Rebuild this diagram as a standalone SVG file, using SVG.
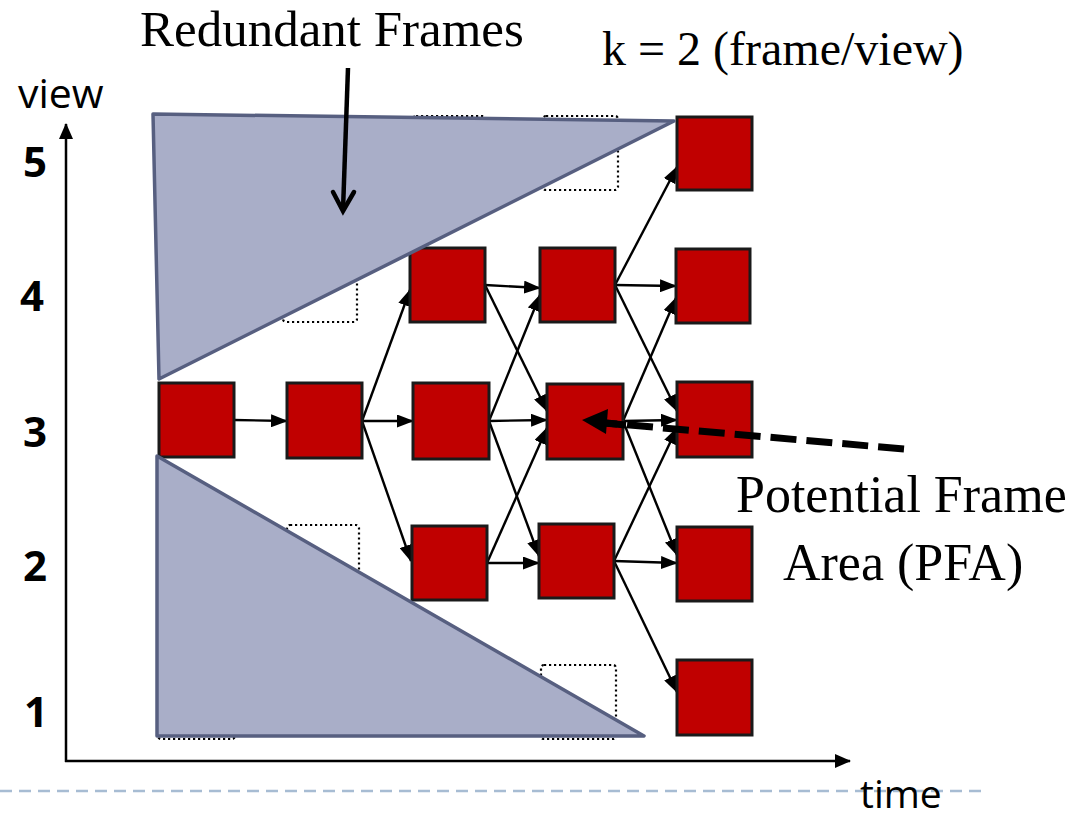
<svg xmlns="http://www.w3.org/2000/svg" width="1079" height="819" viewBox="0 0 1079 819">
<defs>
<style>
.f{fill:#c00000;stroke:#1a1a1a;stroke-width:3}
.d{fill:none;stroke:#000;stroke-width:2.2;stroke-dasharray:2.2 2.8}
.tri{fill:#a9aec8;stroke:#575f80;stroke-width:3.5;stroke-linejoin:round}
.c{stroke:#000;stroke-width:2.4;fill:none;marker-end:url(#ah)}
.ax{stroke:#000;stroke-width:2.5;fill:none;marker-end:url(#axh)}
.serif{font-family:"Liberation Serif","Times New Roman",serif;fill:#000}
.sans{font-family:"Open Sans","DejaVu Sans",sans-serif;fill:#000}
.num{font-family:"Open Sans","DejaVu Sans",sans-serif;font-weight:bold;font-size:42px;fill:#000}
</style>
<marker id="ah" markerWidth="17" markerHeight="13" refX="16" refY="6.5" orient="auto" markerUnits="userSpaceOnUse"><path d="M0,0 L17,6.5 L0,13 z" fill="#000"/></marker>
<marker id="axh" markerWidth="16" markerHeight="14" refX="15" refY="7" orient="auto" markerUnits="userSpaceOnUse"><path d="M0,0 L16,7 L0,14 z" fill="#000"/></marker>
</defs>

<!-- separator -->
<line x1="0" y1="791" x2="985" y2="791" stroke="#a7bcd3" stroke-width="2.5" stroke-dasharray="12 7"/>

<!-- axes -->
<g id="axes">
<line class="ax" x1="66" y1="762" x2="66" y2="124"/>
<line class="ax" x1="65" y1="761" x2="850" y2="761"/>
<text class="sans" x="18" y="108" font-size="41">view</text>
<text class="sans" x="860" y="808" font-size="39">time</text>
<text class="num" x="23" y="177">5</text>
<text class="num" x="20" y="311">4</text>
<text class="num" x="23" y="447">3</text>
<text class="num" x="23" y="581">2</text>
<text class="num" x="24" y="727">1</text>
</g>

<!-- hidden (redundant) frames -->
<g id="hidden-frames">
<rect class="d" x="283" y="248" width="74" height="74" rx="3"/>
<rect class="d" x="413" y="116" width="73" height="74" rx="3"/>
<rect class="d" x="543" y="116" width="75" height="74" rx="3"/>
<rect class="d" x="287" y="525" width="72" height="74" rx="3"/>
<rect class="d" x="541" y="665" width="75" height="74" rx="3"/>
<rect class="d" x="158" y="665" width="77" height="74" rx="3"/>
</g>

<!-- connectors -->
<g id="connectors">
<line class="c" x1="234" y1="420" x2="287" y2="421"/>
<line class="c" x1="362" y1="421" x2="413" y2="421"/>
<line class="c" x1="362" y1="421" x2="410" y2="290"/>
<line class="c" x1="362" y1="421" x2="411" y2="561"/>
<line class="c" x1="485" y1="285" x2="540" y2="288"/>
<line class="c" x1="485" y1="285" x2="547" y2="411"/>
<line class="c" x1="489" y1="421" x2="540" y2="295"/>
<line class="c" x1="489" y1="421" x2="547" y2="420"/>
<line class="c" x1="489" y1="421" x2="539" y2="556"/>
<line class="c" x1="487" y1="563" x2="547" y2="428"/>
<line class="c" x1="487" y1="563" x2="539" y2="563"/>
<line class="c" x1="615" y1="285" x2="677" y2="167"/>
<line class="c" x1="615" y1="285" x2="676" y2="286"/>
<line class="c" x1="615" y1="285" x2="677" y2="411"/>
<line class="c" x1="623" y1="421" x2="676" y2="298"/>
<line class="c" x1="623" y1="421" x2="677" y2="420"/>
<line class="c" x1="623" y1="421" x2="677" y2="555"/>
<line class="c" x1="614" y1="561" x2="677" y2="428"/>
<line class="c" x1="614" y1="561" x2="677" y2="563"/>
<line class="c" x1="614" y1="561" x2="677" y2="692"/>
</g>

<!-- frames -->
<g id="frames">
<g id="f-t0-v3"><rect class="f" x="159" y="383" width="75" height="74"/></g>
<g id="f-t1-v3"><rect class="f" x="287" y="383" width="75" height="75"/></g>
<g id="f-t2-v4"><rect class="f" x="410" y="248" width="75" height="74"/></g>
<g id="f-t2-v3"><rect class="f" x="413" y="383" width="76" height="76"/></g>
<g id="f-t2-v2"><rect class="f" x="412" y="526" width="75" height="74"/></g>
<g id="f-t3-v4"><rect class="f" x="540" y="248" width="75" height="74"/></g>
<g id="f-t3-v3"><rect class="f" x="547" y="384" width="76" height="75"/></g>
<g id="f-t3-v2"><rect class="f" x="539" y="524" width="75" height="74"/></g>
<g id="f-t4-v5"><rect class="f" x="677" y="117" width="75" height="73"/></g>
<g id="f-t4-v4"><rect class="f" x="676" y="249" width="74" height="74"/></g>
<g id="f-t4-v3"><rect class="f" x="677" y="382" width="75" height="75"/></g>
<g id="f-t4-v2"><rect class="f" x="677" y="527" width="75" height="74"/></g>
<g id="f-t4-v1"><rect class="f" x="677" y="660" width="75" height="75"/></g>
</g>

<!-- redundant regions -->
<g id="redundant-upper"><polygon class="tri" points="153,114 674,121 159,379"/></g>
<g id="redundant-lower"><polygon class="tri" points="157,456 644,736 157,736"/></g>

<!-- annotations -->
<g id="label-redundant">
<text class="serif" x="140" y="46" font-size="51">Redundant Frames</text>
<line x1="348" y1="68" x2="343" y2="210" stroke="#000" stroke-width="4.5"/>
<polyline points="333,192 343,211 354,192" fill="none" stroke="#000" stroke-width="4.5" stroke-linecap="round" stroke-linejoin="miter"/>
</g>
<g id="label-k">
<text class="serif" x="602" y="65" font-size="48">k = 2 (frame/view)</text>
</g>
<g id="label-pfa">
<line x1="904" y1="449" x2="606" y2="423" stroke="#000" stroke-width="7" stroke-dasharray="26 10"/>
<line x1="626" y1="425" x2="604" y2="423" stroke="#000" stroke-width="7"/>
<polygon points="582,420 608,409 606,434" fill="#000"/>
<text class="serif" x="736" y="512" font-size="52">Potential Frame</text>
<text class="serif" x="783" y="580" font-size="52">Area (PFA)</text>
</g>
</svg>
